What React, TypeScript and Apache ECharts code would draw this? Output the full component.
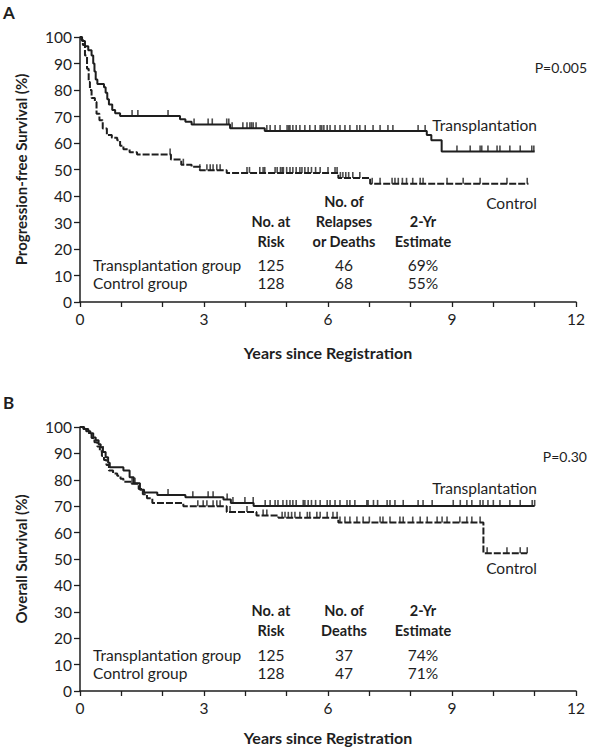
import React, { useEffect, useRef } from "react";
import * as echarts from "echarts";

const FONT = "Lato, 'Noto Sans', sans-serif";
const INK = "#1e1e1e";

// Panel A — progression-free survival: [years, %] after each step
const pfsTransplant: [number, number][] = [
  [0, 100], [0.05, 98.5], [0.12, 96.5], [0.2, 95], [0.28, 93], [0.32, 90], [0.35, 87],
  [0.38, 84], [0.42, 82.3], [0.58, 81], [0.62, 79], [0.66, 76.5], [0.7, 74.5], [0.78, 72.5],
  [0.85, 71.2], [0.97, 70.2], [2.42, 69], [2.55, 68], [2.7, 67], [3.63, 65.6], [4.47, 64.5],
  [8.39, 63], [8.5, 61], [8.75, 56.8], [11.0, 56.8],
];
const pfsControl: [number, number][] = [
  [0, 100], [0.03, 99], [0.07, 97], [0.12, 93], [0.17, 88], [0.21, 83], [0.24, 80], [0.28, 77],
  [0.36, 75.5], [0.4, 71], [0.47, 68.6], [0.55, 65.5], [0.65, 63], [0.77, 62], [0.9, 61],
  [0.97, 59], [1.05, 57.6], [1.2, 56.5], [1.38, 55.7], [2.2, 53.8], [2.45, 51.8], [2.7, 51],
  [2.9, 49.7], [3.55, 48.7], [6.25, 46.8], [7.02, 44.6], [10.85, 44.6],
];
const pfsTransplantCensor = [
  1.26, 1.4, 2.13, 2.76, 3.1, 3.2, 3.55, 3.6, 3.68, 3.94, 4.04, 4.11, 4.15, 4.19, 4.26, 4.52,
  4.6, 4.72, 4.84, 5.01, 5.05, 5.08, 5.15, 5.23, 5.32, 5.44, 5.56, 5.69, 5.81, 5.85, 5.9, 5.98,
  6.05, 6.17, 6.29, 6.41, 6.53, 6.7, 6.77, 6.9, 7.09, 7.26, 7.45, 7.57, 8.18, 8.35, 9.12, 9.44,
  9.68, 9.72, 9.87, 10.09, 10.16, 10.4, 10.65, 10.93, 10.98,
];
const pfsControlCensor = [
  2.18, 2.5, 2.9, 3.07, 3.15, 3.22, 3.31, 3.39, 4.04, 4.1, 4.35, 4.43, 4.47, 4.72, 4.77, 4.85,
  4.89, 4.92, 5.0, 5.08, 5.15, 5.23, 5.32, 5.37, 5.44, 5.52, 5.6, 5.7, 5.81, 6.0, 6.17, 6.22,
  6.3, 6.36, 6.43, 6.5, 6.6, 6.77, 7.07, 7.26, 7.55, 7.62, 7.7, 7.8, 7.9, 8.05, 8.23, 8.3,
  8.88, 9.27, 9.68, 10.33, 10.82,
];

// Panel B — overall survival
const osTransplant: [number, number][] = [
  [0, 100], [0.1, 99.2], [0.2, 98.4], [0.25, 97.6], [0.32, 96], [0.38, 95], [0.45, 93.5],
  [0.5, 92.3], [0.55, 90.5], [0.62, 88.5], [0.68, 86.5], [0.72, 84.8], [1.05, 83.5], [1.2, 81],
  [1.3, 78.7], [1.45, 76.2], [1.55, 75.2], [1.87, 74.2], [2.55, 73.4], [3.47, 72.5],
  [3.65, 71.2], [4.2, 70.1], [11.0, 70.1],
];
const osControl: [number, number][] = [
  [0, 100], [0.08, 99.2], [0.15, 98.4], [0.22, 97.2], [0.28, 95.8], [0.35, 94.2], [0.42, 92.6],
  [0.48, 90.8], [0.53, 89], [0.58, 87.5], [0.64, 85.6], [0.7, 83.5], [0.8, 82.4], [0.9, 81.5],
  [0.98, 80.4], [1.05, 79.3], [1.25, 78.5], [1.42, 76.5], [1.52, 74.5], [1.62, 73],
  [1.75, 71.2], [2.5, 70], [3.55, 67.8], [4.27, 66.5], [4.8, 65.6], [6.25, 63.8],
  [9.76, 52.2], [10.82, 52.2],
];
const osTransplantCensor = [
  0.56, 2.13, 2.73, 3.1, 3.22, 3.56, 3.7, 3.99, 4.19, 4.48, 4.6, 4.72, 4.79, 4.91, 5.0, 5.08,
  5.15, 5.23, 5.4, 5.44, 5.52, 5.6, 5.7, 5.81, 5.98, 6.05, 6.17, 6.29, 6.46, 6.53, 6.65, 6.94,
  6.97, 7.1, 7.2, 7.43, 7.5, 7.62, 7.82, 8.18, 8.3, 8.52, 9.03, 9.2, 9.36, 9.48, 9.68, 9.75,
  9.87, 10.0, 10.16, 10.4, 10.65, 10.94, 11.0,
];
const osControlCensor = [
  1.26, 1.33, 2.85, 2.98, 3.07, 3.22, 3.31, 3.39, 3.63, 4.04, 4.43, 4.52, 4.89, 4.96, 5.04,
  5.12, 5.2, 5.32, 5.5, 5.56, 5.73, 5.81, 5.98, 6.12, 6.22, 6.29, 6.41, 6.53, 6.7, 6.85, 7.0,
  7.26, 7.33, 7.5, 7.74, 7.82, 8.05, 8.23, 8.4, 8.64, 8.76, 8.88, 9.19, 9.36, 9.48, 9.68,
  9.85, 10.33, 10.65, 10.82,
];

const curveNames = ["Transplantation", "Control"];
const pValues = ["P=0.005", "P=0.30"];
const panelLetters = ["A", "B"];
const yAxisTitles = ["Progression-free Survival (%)", "Overall Survival (%)"];
const xAxisTitle = "Years since Registration";
const xLabelYears = [0, 3, 6, 9, 12];

const groups = ["Transplantation group", "Control group"];
const pfsHeaders = [["No. at", "Risk"], ["No. of", "Relapses", "or Deaths"], ["2-Yr", "Estimate"]];
const osHeaders = [["No. at", "Risk"], ["No. of", "Deaths"], ["2-Yr", "Estimate"]];
const pfsAtRisk = [125, 128];
const pfsEvents = [46, 68];
const pfsTwoYear = ["69%", "55%"];
const osAtRisk = [125, 128];
const osEvents = [37, 47];
const osTwoYear = ["74%", "71%"];

function levelAt(steps: [number, number][], t: number): number {
  let y = steps[0][1];
  for (const [x, v] of steps) {
    if (x <= t) y = v;
    else break;
  }
  return y;
}

function censorPoints(steps: [number, number][], times: number[]) {
  return times.map((t) => [t, levelAt(steps, t)]);
}

export default function App() {
  const ref = useRef<HTMLDivElement>(null);

  useEffect(() => {
    if (!ref.current) return;
    const chart = echarts.init(ref.current, undefined, { renderer: "svg" });

    const grids = [
      { left: 80, right: 14, top: 37, height: 265 },
      { left: 80, right: 14, top: 427, height: 264 },
    ];
    const xNameGaps = [42, 38];

    const xAxes = [0, 1].map((i) => ({
      type: "value",
      gridIndex: i,
      min: 0,
      max: 12,
      interval: 1,
      name: xAxisTitle,
      nameLocation: "middle",
      nameGap: xNameGaps[i],
      nameTextStyle: { fontFamily: FONT, fontWeight: "bold", fontSize: 16, color: INK },
      axisLine: { show: true, lineStyle: { color: INK, width: 1.5 } },
      axisTick: { show: true, length: 5, lineStyle: { color: INK, width: 1.3 } },
      axisLabel: {
        fontFamily: FONT,
        fontSize: 15.5,
        color: INK,
        margin: 9,
        formatter: (v: number) => (xLabelYears.includes(v) ? String(v) : ""),
      },
      splitLine: { show: false },
    }));

    const yAxes = [0, 1].map((i) => ({
      type: "value",
      gridIndex: i,
      min: 0,
      max: 100,
      interval: 10,
      name: yAxisTitles[i],
      nameLocation: "middle",
      nameGap: 52,
      nameRotate: 90,
      nameTextStyle: { fontFamily: FONT, fontWeight: "bold", fontSize: 15, color: INK },
      axisLine: { show: true, lineStyle: { color: INK, width: 1.5 } },
      axisTick: { show: true, length: 6, lineStyle: { color: INK, width: 1.3 } },
      axisLabel: { fontFamily: FONT, fontSize: 15.5, color: INK, margin: 8 },
      splitLine: { show: false },
    }));

    const lineSeries = (data: [number, number][], idx: number, dashed: boolean) => ({
      type: "line",
      xAxisIndex: idx,
      yAxisIndex: idx,
      step: "end",
      data,
      showSymbol: false,
      silent: true,
      lineStyle: { color: INK, width: 2, type: dashed ? [7, 2] : "solid" },
    });
    const censorSeries = (steps: [number, number][], times: number[], idx: number) => ({
      type: "scatter",
      xAxisIndex: idx,
      yAxisIndex: idx,
      data: censorPoints(steps, times),
      symbol: "rect",
      symbolSize: [1.6, 6],
      symbolOffset: [0, -3],
      silent: true,
      itemStyle: { color: INK },
    });

    const text = (
      x: number,
      y: number,
      s: string,
      align: string,
      opts: { bold?: boolean; size?: number } = {}
    ) => ({
      type: "text",
      x,
      y,
      silent: true,
      style: {
        text: s,
        fill: INK,
        font: `${opts.bold ? "bold " : ""}${opts.size ?? 15.5}px ${FONT}`,
        align,
        verticalAlign: "middle",
      },
    });

    const graphics: any[] = [];
    const panelTops = [0, 390];
    const tables = [
      { headers: pfsHeaders, cols: [pfsAtRisk, pfsEvents, pfsTwoYear], headerBottom: 241, row0: 265 },
      { headers: osHeaders, cols: [osAtRisk, osEvents, osTwoYear], headerBottom: 630, row0: 655 },
    ];
    const colCenters = [271, 344, 423];
    const pY = [67, 456];
    const txLabelY = [125, 488];
    const ctlLabelY = [203, 568];

    [0, 1].forEach((p) => {
      graphics.push(text(3, panelTops[p] + 12, panelLetters[p], "left", { bold: true, size: 17 }));
      graphics.push(text(587, pY[p], pValues[p], "right", { size: 14 }));
      graphics.push(text(537, txLabelY[p], curveNames[0], "right"));
      graphics.push(text(537, ctlLabelY[p], curveNames[1], "right"));
      const tb = tables[p];
      tb.headers.forEach((lines, c) => {
        lines.forEach((ln, k) => {
          const y = tb.headerBottom - (lines.length - 1 - k) * 20;
          graphics.push(text(colCenters[c], y, ln, "center", { bold: true, size: 14.5 }));
        });
      });
      groups.forEach((g, r) => {
        const y = tb.row0 + r * 18;
        graphics.push(text(93, y, g, "left"));
        tb.cols.forEach((col, c) => {
          graphics.push(text(colCenters[c], y, String(col[r]), "center"));
        });
      });
    });

    chart.setOption({
      animation: false,
      backgroundColor: "#ffffff",
      textStyle: { fontFamily: FONT },
      grid: grids.map((g) => ({ ...g, outerBoundsMode: "none" })),
      xAxis: xAxes,
      yAxis: yAxes,
      series: [
        lineSeries(pfsTransplant, 0, false),
        lineSeries(pfsControl, 0, true),
        censorSeries(pfsTransplant, pfsTransplantCensor, 0),
        censorSeries(pfsControl, pfsControlCensor, 0),
        lineSeries(osTransplant, 1, false),
        lineSeries(osControl, 1, true),
        censorSeries(osTransplant, osTransplantCensor, 1),
        censorSeries(osControl, osControlCensor, 1),
      ],
      graphic: graphics,
    } as any);

    return () => chart.dispose();
  }, []);

  return (
    <div
      ref={ref}
      style={{ position: "absolute", left: 0, top: 0, width: 590, height: 750, background: "#fff" }}
    />
  );
}
